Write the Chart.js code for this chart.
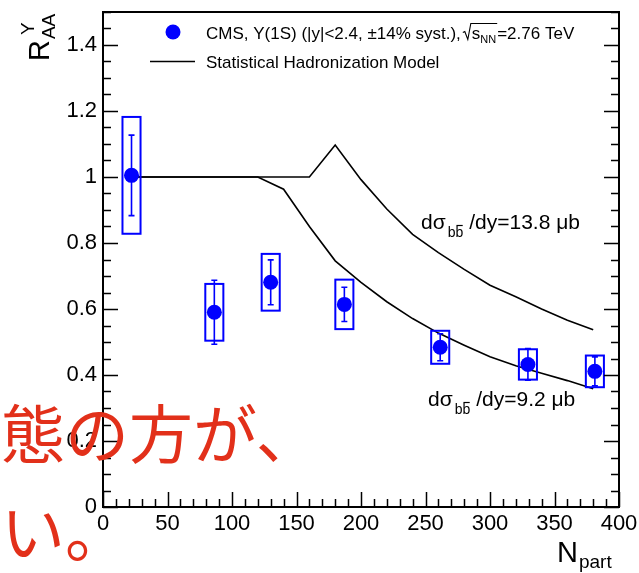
<!DOCTYPE html>
<html>
<head>
<meta charset="utf-8">
<script src="https://cdn.jsdelivr.net/npm/chart.js@4/dist/chart.umd.min.js"></script>
<style>
  html, body { margin: 0; padding: 0; background: #fff; }
  #wrap { width: 639px; height: 573px; }
</style>
</head>
<body>
<div id="wrap"><canvas id="c" width="639" height="573"></canvas></div>
<script>
// CMS Upsilon(1S) nuclear modification factor vs. number of participants
const npart   = [22.1, 86.3, 130.0, 187.1, 261.4, 329.4, 381.3];
const raa     = [1.005, 0.590, 0.681, 0.614, 0.484, 0.432, 0.411];
const statErr = [0.122, 0.097, 0.068, 0.052, 0.041, 0.048, 0.044];
const systErr = [0.177, 0.086, 0.086, 0.075, 0.050, 0.046, 0.048];

// Statistical hadronization model curves
const shmHighX = [20, 160, 180, 200, 220, 240, 260, 280, 300, 320, 340, 360, 380];
const shmHighY = [1.0, 1.0, 1.097, 0.992, 0.903, 0.826, 0.771, 0.720, 0.672, 0.637, 0.600, 0.566, 0.537];
const shmLowX  = [20, 120, 140, 160, 180, 200, 220, 240, 260, 280, 300, 320, 340, 360, 380];
const shmLowY  = [1.0, 1.0, 0.963, 0.850, 0.746, 0.681, 0.622, 0.571, 0.527, 0.490, 0.455, 0.428, 0.405, 0.383, 0.358];

// Axis ticks
const xTicks = [0, 50, 100, 150, 200, 250, 300, 350, 400];
const xTickLabels = ['0', '50', '100', '150', '200', '250', '300', '350', '400'];
const yTicks = [0, 0.2, 0.4, 0.6, 0.8, 1.0, 1.2, 1.4];
const yTickLabels = ['0', '0.2', '0.4', '0.6', '0.8', '1', '1.2', '1.4'];

const SANS = "'Liberation Sans', Arial, Helvetica, sans-serif";
const BLUE = '#0000ff';
const BOX_HALF_WIDTH = 7; // in N_part units

// Statistical + systematic uncertainties for the CMS points
const uncertaintyPlugin = {
  id: 'uncertainties',
  afterDatasetsDraw(chart) {
    const ctx = chart.ctx;
    const xs = chart.scales.x, ys = chart.scales.y;
    ctx.save();
    ctx.strokeStyle = BLUE;
    for (let i = 0; i < npart.length; i++) {
      const x0 = xs.getPixelForValue(npart[i] - BOX_HALF_WIDTH);
      const x1 = xs.getPixelForValue(npart[i] + BOX_HALF_WIDTH);
      const yt = ys.getPixelForValue(raa[i] + systErr[i]);
      const yb = ys.getPixelForValue(raa[i] - systErr[i]);
      ctx.lineWidth = 2;
      ctx.strokeRect(x0, yt, x1 - x0, yb - yt);
      const xc = xs.getPixelForValue(npart[i]);
      const st = ys.getPixelForValue(raa[i] + statErr[i]);
      const sb = ys.getPixelForValue(raa[i] - statErr[i]);
      ctx.lineWidth = 1.6;
      ctx.beginPath();
      ctx.moveTo(xc, st); ctx.lineTo(xc, sb);
      ctx.moveTo(xc - 3, st); ctx.lineTo(xc + 3, st);
      ctx.moveTo(xc - 3, sb); ctx.lineTo(xc + 3, sb);
      ctx.stroke();
    }
    ctx.restore();
  }
};

// Closed frame with inward-pointing ticks
const framePlugin = {
  id: 'frame',
  afterDraw(chart) {
    const ctx = chart.ctx;
    const a = chart.chartArea;
    const xs = chart.scales.x, ys = chart.scales.y;
    ctx.save();
    ctx.strokeStyle = '#000';
    ctx.lineWidth = 2;
    ctx.beginPath();
    ctx.rect(a.left, a.top, a.right - a.left, a.bottom - a.top);
    ctx.stroke();
    ctx.lineWidth = 1.5;
    ctx.beginPath();
    // x axis: major every 50, minor every 10
    for (let v = xs.min; v <= xs.max + 1e-9; v += 10) {
      const p = Math.round(xs.getPixelForValue(v)) + 0.5;
      const len = (Math.abs(v % 50) < 1e-6) ? 15 : 8;
      ctx.moveTo(p, a.bottom); ctx.lineTo(p, a.bottom - len);
    }
    // y axes (left and right): major every 0.2, minor every 0.05
    for (let k = 0; k * 0.05 <= ys.max + 1e-9; k++) {
      const v = k * 0.05;
      const p = Math.round(ys.getPixelForValue(v)) + 0.5;
      const len = (k % 4 === 0) ? 15 : 8;
      ctx.moveTo(a.left, p); ctx.lineTo(a.left + len, p);
      ctx.moveTo(a.right, p); ctx.lineTo(a.right - len, p);
    }
    ctx.stroke();
    ctx.restore();
  }
};

function text(ctx, s, x, y, size, opts) {
  ctx.font = (opts && opts.italic ? 'italic ' : '') + size + 'px ' + ((opts && opts.family) || SANS);
  ctx.fillText(s, x, y);
  return ctx.measureText(s).width;
}

// d sigma_{b bbar}/dy label
function xsecLabel(ctx, x, y, value) {
  let cx = x;
  cx += text(ctx, 'd\u03C3', cx, y, 21);
  cx += 2;
  const wb = text(ctx, 'b', cx, y + 8, 14);
  const wb2 = text(ctx, 'b', cx + wb, y + 8, 14);
  ctx.beginPath();
  ctx.lineWidth = 1.2;
  ctx.moveTo(cx + wb + 1, y + 8 - 11.5);
  ctx.lineTo(cx + wb + wb2 - 0.5, y + 8 - 11.5);
  ctx.stroke();
  cx += wb + wb2 + 6;
  text(ctx, '/dy=' + value + ' \u03BCb', cx, y, 21);
}

const labelPlugin = {
  id: 'labels',
  afterDraw(chart) {
    const ctx = chart.ctx;
    ctx.save();
    ctx.fillStyle = '#000';
    ctx.strokeStyle = '#000';
    ctx.textBaseline = 'alphabetic';
    ctx.textAlign = 'left';

    // Legend
    ctx.fillStyle = BLUE;
    ctx.beginPath();
    ctx.arc(173, 32, 7.5, 0, Math.PI * 2);
    ctx.fill();
    ctx.fillStyle = '#000';
    let cx = 206;
    const by = 38.5;
    cx += text(ctx, 'CMS, \u03A5(1S) (|y|<2.4, \u00B114% syst.),', cx, by, 17);
    cx += 2;
    // radical sign over s_NN
    ctx.lineWidth = 1.1;
    const sw = text(ctx, 's', cx + 9, by, 17);
    const nw = text(ctx, 'NN', cx + 9 + sw, by + 4, 11);
    ctx.beginPath();
    ctx.moveTo(cx, by - 6);
    ctx.lineTo(cx + 2, by - 7);
    ctx.lineTo(cx + 5, by + 1);
    ctx.lineTo(cx + 8, by - 15);
    ctx.lineTo(cx + 9 + sw + nw + 1, by - 15);
    ctx.stroke();
    cx += 9 + sw + nw + 1;
    text(ctx, '=2.76 TeV', cx, by, 17);

    ctx.lineWidth = 1.5;
    ctx.beginPath();
    ctx.moveTo(150, 61.5); ctx.lineTo(195, 61.5);
    ctx.stroke();
    text(ctx, 'Statistical Hadronization Model', 206, 67.5, 17);

    // Model annotations
    xsecLabel(ctx, 421, 229, '13.8');
    xsecLabel(ctx, 428, 406, '9.2');

    // Axis titles
    ctx.save();
    ctx.translate(49, 61);
    ctx.rotate(-Math.PI / 2);
    const rw = text(ctx, 'R', 0, 0, 29);
    text(ctx, 'AA', rw + 1, 6, 19);
    text(ctx, '\u03A5', rw + 5, -15, 19);
    ctx.restore();

    const nW = text(ctx, 'N', 557, 562, 29);
    text(ctx, 'part', 557 + nW + 1, 568, 19);

    // Overlaid caption
    ctx.fillStyle = '#e2301a';
    ctx.font = "64px 'Noto Sans CJK JP', sans-serif";
    ctx.fillText('態の方が、', 1, 458);
    ctx.fillText('い。', 1, 556);
    ctx.restore();
  }
};

new Chart(document.getElementById('c'), {
  type: 'scatter',
  data: {
    datasets: [
      {
        label: 'CMS',
        data: npart.map((x, i) => ({ x, y: raa[i] })),
        pointRadius: 7.5,
        pointHoverRadius: 7.5,
        backgroundColor: BLUE,
        borderColor: BLUE,
        borderWidth: 0,
        order: 0
      },
      {
        type: 'line',
        label: 'SHM 13.8',
        data: shmHighX.map((x, i) => ({ x, y: shmHighY[i] })),
        borderColor: '#000',
        borderWidth: 1.6,
        pointRadius: 0,
        fill: false,
        tension: 0,
        order: 1
      },
      {
        type: 'line',
        label: 'SHM 9.2',
        data: shmLowX.map((x, i) => ({ x, y: shmLowY[i] })),
        borderColor: '#000',
        borderWidth: 1.6,
        pointRadius: 0,
        fill: false,
        tension: 0,
        order: 1
      }
    ]
  },
  options: {
    responsive: false,
    animation: false,
    devicePixelRatio: 1,
    layout: { padding: { left: 0, right: 20, top: 12, bottom: 0 } },
    plugins: { legend: { display: false }, tooltip: { enabled: false } },
    scales: {
      x: {
        type: 'linear',
        min: 0, max: 400,
        afterBuildTicks: s => { s.ticks = xTicks.map(v => ({ value: v })); },
        afterFit: s => { s.height = 66; s.paddingLeft = 0; s.paddingRight = 0; },
        grid: { display: false, drawTicks: false },
        border: { display: true, color: '#000', width: 2 },
        ticks: {
          color: '#000',
          font: { family: SANS, size: 22 },
          padding: 4,
          maxRotation: 0,
          autoSkip: false,
          callback: (v) => xTickLabels[xTicks.indexOf(v)]
        }
      },
      y: {
        type: 'linear',
        min: 0, max: 1.5,
        afterBuildTicks: s => { s.ticks = yTicks.map(v => ({ value: v })); },
        afterFit: s => { s.width = 103; s.paddingTop = 0; s.paddingBottom = 0; },
        grid: { display: false, drawTicks: false },
        border: { display: true, color: '#000', width: 2 },
        ticks: {
          color: '#000',
          font: { family: SANS, size: 22 },
          padding: 6,
          autoSkip: false,
          callback: (v) => yTickLabels[yTicks.findIndex(t => Math.abs(t - v) < 1e-9)]
        }
      }
    }
  },
  plugins: [uncertaintyPlugin, framePlugin, labelPlugin]
});
</script>
</body>
</html>
